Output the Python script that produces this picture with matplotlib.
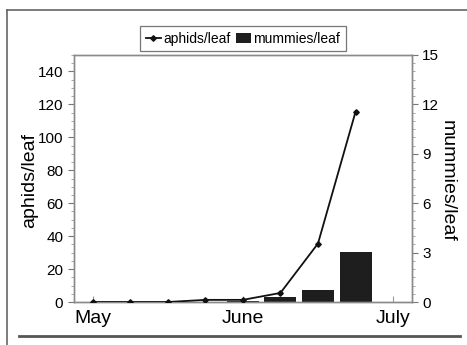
import matplotlib.pyplot as plt
from matplotlib.lines import Line2D
from matplotlib.ticker import MultipleLocator

# weekly samples, May=0, June=4, July=8
weeks = [0, 1, 2, 3, 4, 5, 6, 7]
aphids = [0, 0, 0, 1.3, 1.3, 5.5, 35.5, 115.5]
mummies = [0, 0, 0, 0, 0.05, 0.3, 0.75, 3.05]
month_pos = [0, 4, 8]
month_labels = ["May", "June", "July"]

plt.rcParams['font.family'] = ['Liberation Sans', 'DejaVu Sans']

fig = plt.figure(figsize=(4.67, 3.45), dpi=100)
ax = fig.add_axes([0.158, 0.1246, 0.724, 0.716])
ax2 = ax.twinx()

ax2.bar(weeks, mummies, width=0.85, color='#1e1e1e', label='mummies/leaf', zorder=1)
ax.plot(weeks, aphids, color='#111111', lw=1.3, marker='D', ms=2.8, label='aphids/leaf', zorder=3)
ax.set_zorder(ax2.get_zorder() + 1)
ax.patch.set_visible(False)

ax.set_xlim(-0.5, 8.5)
ax.set_ylim(0, 150)
ax2.set_ylim(0, 15)
ax.set_xticks(month_pos)
ax.set_xticklabels(month_labels, fontsize=14)
ax.set_yticks(range(0, 141, 20))
ax.yaxis.set_minor_locator(MultipleLocator(5))
ax2.set_yticks(range(0, 16, 3))
ax2.yaxis.set_minor_locator(MultipleLocator(0.5))

ax.tick_params(axis='x', direction='in', length=4, color='#999999', pad=6)
ax.tick_params(axis='y', which='major', direction='out', length=4, labelsize=11, color='#777777')
ax.tick_params(axis='y', which='minor', direction='out', length=2, color='#999999')
ax2.tick_params(axis='y', which='major', direction='out', length=4, labelsize=11, color='#777777')
ax2.tick_params(axis='y', which='minor', direction='out', length=2, color='#999999')

for a in (ax, ax2):
    for s in a.spines.values():
        s.set_color('#8a8a8a')
        s.set_linewidth(1.0)

ax.set_ylabel("aphids/leaf", fontsize=14)
ax.yaxis.set_label_coords(-0.105, 0.49)
ax2.set_ylabel("mummies/leaf", fontsize=14, rotation=270, va='bottom')
ax2.yaxis.set_label_coords(1.08, 0.49)

h1, l1 = ax.get_legend_handles_labels()
h2, l2 = ax2.get_legend_handles_labels()
leg = fig.legend(h1 + h2, l1 + l2, loc='center', bbox_to_anchor=(0.52, 0.888), ncol=2,
                 fontsize=10, frameon=True, fancybox=False, edgecolor='#555555',
                 handlelength=1.1, handletextpad=0.15, columnspacing=0.4, borderpad=0.4,
                 borderaxespad=0)
leg.get_frame().set_linewidth(0.9)

# page frame from the scan
fig.add_artist(Line2D([0.015, 0.015], [0.0, 0.971], color='#666666', lw=1.2, transform=fig.transFigure))
fig.add_artist(Line2D([0.015, 1.0], [0.971, 0.971], color='#666666', lw=1.2, transform=fig.transFigure))
fig.add_artist(Line2D([0.04, 0.985], [0.026, 0.026], color='#555555', lw=2.0, transform=fig.transFigure))

fig.savefig("out.png", dpi=100)
